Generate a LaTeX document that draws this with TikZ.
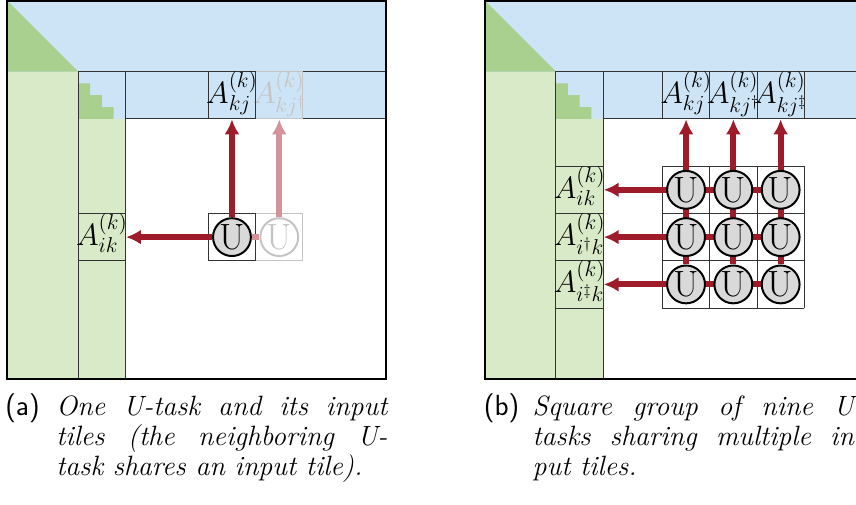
\RequirePackage{fix-cm}
\documentclass[tikz,border=0pt]{standalone}
\usetikzlibrary{arrows.meta}

\definecolor{tileblue}{HTML}{CCE4F5}
\definecolor{tilegreen}{HTML}{D9EAC8}
\definecolor{diaggreen}{HTML}{A9D08E}
\definecolor{taskred}{HTML}{9E1B2A}
\definecolor{fadedred}{HTML}{D4939A}
\definecolor{fadedgray}{HTML}{C4C4C4}
\definecolor{taskgray}{HTML}{D9D9D9}

\pgfdeclarelayer{front}
\pgfsetlayers{main,front}

% tile label, allowed to run over the tile edge
\newcommand{\tilelab}[1]{\makebox[0pt]{$#1$}}

\begin{document}
\begin{tikzpicture}[
    gridline/.style={draw=black!80, line width=0.6pt},
    tile/.style={rectangle, draw=black!80, line width=0.6pt, minimum size=1cm, inner sep=0pt, text height=0.6cm, text depth=0.25cm, font=\fontsize{18.5}{20}\selectfont},
    task/.style={circle, draw=black, line width=1.2pt, fill=taskgray, minimum size=0.8cm, inner sep=0pt, font=\fontsize{22}{24}\selectfont},
    dep/.style={draw=taskred, line width=3.6pt, -{Latex[length=9pt,width=9pt]}},
    link/.style={draw=taskred, line width=3.6pt},
    caplabel/.style={anchor=base west, inner sep=0pt, font=\sffamily\fontsize{17.5}{18}\selectfont},
    captext/.style={anchor=base west, inner sep=0pt, font=\itshape\fontsize{16.8}{18}\selectfont}
  ]
    \clip (-0.154,-2.643) rectangle (17.943,8.013);

    % (a) one U-task
    \fill[tileblue] (0,6.5) rectangle (8,8);
    \fill[diaggreen] (0,8) -- (1.5,6.5) -- (0,6.5) -- cycle;
    \fill[tilegreen] (0,0) rectangle (1.5,6.5);
    \fill[tilegreen] (1.5,0) rectangle (2.5,5.5);
    \fill[tileblue] (1.5,5.5) rectangle (8,6.5);
    \fill[diaggreen] (1.5,5.5) |- (1.75,6.25) |- (2,6) |- (2.25,5.75) -- (2.25,5.5) -- cycle;
    \draw[gridline] (1.5,0) rectangle (2.5,6.5);
    \draw[gridline] (2.5,5.5) rectangle (8,6.5);

    \node[tile, draw=fadedgray, text=fadedgray] (akjd) at (5.75,6) {\tilelab{A^{(k)}_{kj^\dagger}}};
    \node[tile] (akj) at (4.75,6) {\tilelab{A^{(k)}_{kj}}};
    \node[tile] (aik) at (2,3) {\tilelab{A^{(k)}_{ik}}};
    \draw[gridline, draw=fadedgray] (5.25,2.5) rectangle (6.25,3.5);
    \draw[gridline] (4.25,2.5) rectangle (5.25,3.5);

    \begin{pgfonlayer}{front}
      \node[task] (u) at (4.75,3) {U};
      \node[task, draw=fadedgray, fill=white, text=fadedgray] (ud) at (5.75,3) {U};
    \end{pgfonlayer}

    \draw[link, draw=fadedred] (u) -- (ud);
    \draw[dep, draw=fadedred] (ud) -- (akjd);
    \draw[dep] (u) -- (akj);
    \draw[dep] (u) -- (aik);

    \draw[line width=1.2pt] (0,0) rectangle (8,8);

    \node[caplabel] (capa) at (-0.05,-0.78) {(a)};
    \node[captext] (capa1) at (1.03,-0.78) {\makebox[7cm][s]{One U-task and its input}};
    \node[captext] (capa2) at (1.03,-1.41) {\makebox[7cm][s]{tiles (the neighboring U-}};
    \node[captext] (capa3) at (1.03,-2.04) {task shares an input tile).};

    % (b) square group of nine U-tasks
    \begin{scope}[xshift=10.1cm]
      \fill[tileblue] (0,6.5) rectangle (8,8);
      \fill[diaggreen] (0,8) -- (1.5,6.5) -- (0,6.5) -- cycle;
      \fill[tilegreen] (0,0) rectangle (1.5,6.5);
      \fill[tilegreen] (1.5,0) rectangle (2.5,5.5);
      \fill[tileblue] (1.5,5.5) rectangle (8,6.5);
      \fill[diaggreen] (1.5,5.5) |- (1.75,6.25) |- (2,6) |- (2.25,5.75) -- (2.25,5.5) -- cycle;
      \draw[gridline] (1.5,0) rectangle (2.5,6.5);
      \draw[gridline] (2.5,5.5) rectangle (8,6.5);

      \node[tile] (bkj) at (4.25,6) {\tilelab{A^{(k)}_{kj}}};
      \node[tile] (bkjd) at (5.25,6) {\tilelab{A^{(k)}_{kj^\dagger}}};
      \node[tile] (bkjdd) at (6.25,6) {\tilelab{A^{(k)}_{kj^\ddagger}}};
      \node[tile] (bik) at (2,4) {\tilelab{A^{(k)}_{ik}}};
      \node[tile] (bidk) at (2,3) {\tilelab{A^{(k)}_{i^\dagger k}}};
      \node[tile] (biddk) at (2,2) {\tilelab{A^{(k)}_{i^\ddagger k}}};
      \draw[gridline, shift={(-0.25,-0.5)}] (4,2) grid (7,5);

      \begin{pgfonlayer}{front}
        \node[task] (u11) at (4.25,4) {U};
        \node[task] (u12) at (5.25,4) {U};
        \node[task] (u13) at (6.25,4) {U};
        \node[task] (u21) at (4.25,3) {U};
        \node[task] (u22) at (5.25,3) {U};
        \node[task] (u23) at (6.25,3) {U};
        \node[task] (u31) at (4.25,2) {U};
        \node[task] (u32) at (5.25,2) {U};
        \node[task] (u33) at (6.25,2) {U};
      \end{pgfonlayer}

      \draw[dep] (u31) -- (bkj);
      \draw[dep] (u32) -- (bkjd);
      \draw[dep] (u33) -- (bkjdd);
      \draw[dep] (u13) -- (bik);
      \draw[dep] (u23) -- (bidk);
      \draw[dep] (u33) -- (biddk);

      \draw[line width=1.2pt] (0,0) rectangle (8,8);

      \node[caplabel] (capb) at (-0.03,-0.78) {(b)};
      \node[captext] (capb1) at (1.0,-0.78) {\makebox[7cm][s]{Square group of nine U-}};
      \node[captext] (capb2) at (1.0,-1.41) {\makebox[7cm][s]{tasks sharing multiple in-}};
      \node[captext] (capb3) at (1.0,-2.04) {put tiles.};
    \end{scope}
  \end{tikzpicture}
\end{document}
